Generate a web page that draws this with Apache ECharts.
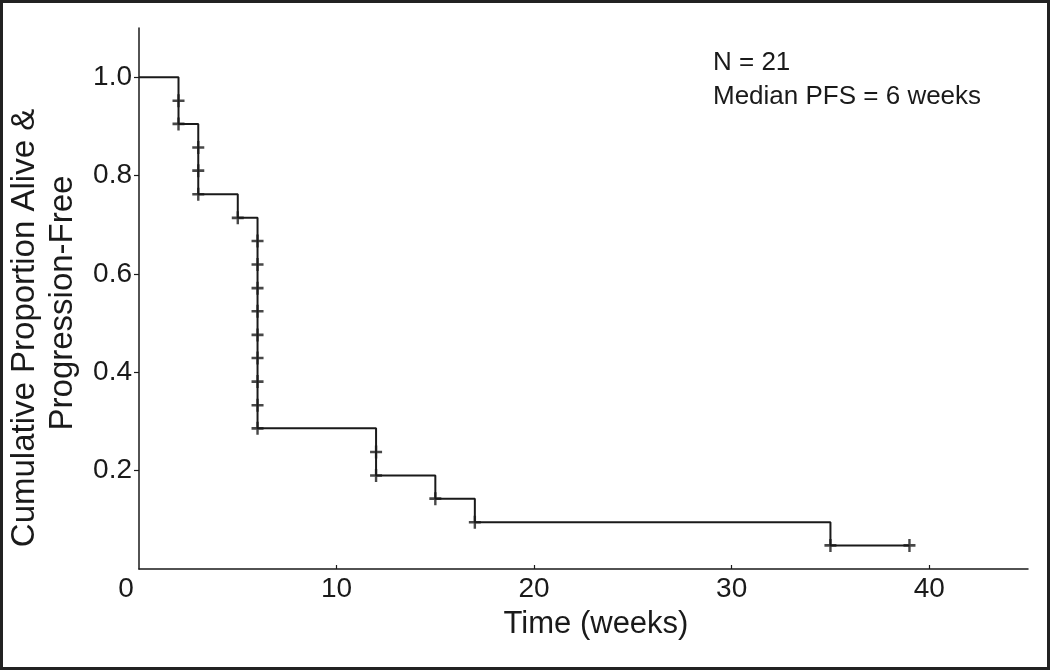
<!DOCTYPE html>
<html>
<head>
<meta charset="utf-8">
<script src="https://cdn.jsdelivr.net/npm/echarts@6/dist/echarts.min.js"></script>
<style>
  html, body { margin: 0; padding: 0; background: #fff; }
  #chart { width: 1050px; height: 670px; }
</style>
</head>
<body>
<div id="chart"></div>
<script>
// Kaplan-Meier step curve (time in weeks, cumulative proportion)
const stepTimes = [0, 2, 3, 5, 6, 12, 15, 17, 35, 39];
const stepSurv  = [1.0, 0.905, 0.762, 0.714, 0.286, 0.190, 0.143, 0.095, 0.048, 0.048];
// Censor / event marks, one per patient (N = 21)
const markTimes = [2, 2, 3, 3, 3, 5, 6, 6, 6, 6, 6, 6, 6, 6, 6, 12, 12, 15, 17, 35, 39];
const markSurv  = [0.952, 0.905, 0.857, 0.810, 0.762, 0.714, 0.667, 0.619, 0.571, 0.524, 0.476,
                   0.429, 0.381, 0.333, 0.286, 0.238, 0.190, 0.143, 0.095, 0.048, 0.048];
// Axis ticks and labels
const xTickValues = [10, 20, 30, 40];
const xLabelValues = [0, 10, 20, 30, 40];
const yTickValues = [0.2, 0.4, 0.6, 0.8, 1.0];
const yLabelValues = [0.2, 0.4, 0.6, 0.8, 1.0];
const xTitle = 'Time (weeks)';
const yTitleLines = ['Cumulative Proportion Alive &', 'Progression-Free'];
const noteLines = ['N = 21', 'Median PFS = 6 weeks'];

const FONT = '"Liberation Sans", Arial, Helvetica, sans-serif';
const INK = '#1a1a1a';

const chart = echarts.init(document.getElementById('chart'), null, { renderer: 'canvas' });

const stepData = stepTimes.map((t, i) => [t, stepSurv[i]]);
const markData = markTimes.map((t, i) => [t, markSurv[i]]);

chart.setOption({
  animation: false,
  backgroundColor: '#fff',
  grid: { left: 139, right: 22, top: 28, bottom: 101, containLabel: false },
  xAxis: {
    type: 'value', min: 0, max: 45, interval: 5,
    axisLine: { show: true, lineStyle: { color: INK, width: 1.5 } },
    axisTick: { show: true, inside: true, length: 4, customValues: xTickValues,
                lineStyle: { color: INK, width: 1.2 } },
    splitLine: { show: false },
    axisLabel: {
      margin: 6, color: INK, fontFamily: FONT, fontSize: 28,
      customValues: xLabelValues,
      formatter: v => v === 0 ? '{z|0}' : String(v),
      rich: { z: { padding: [0, 26, 0, 0], fontSize: 28, fontFamily: FONT, color: INK } }
    }
  },
  yAxis: {
    type: 'value', min: 0, max: 1.1, interval: 0.1,
    axisLine: { show: true, lineStyle: { color: INK, width: 1.5 } },
    axisTick: { show: true, inside: false, length: 5, customValues: yTickValues,
                lineStyle: { color: INK, width: 1.2 } },
    splitLine: { show: false },
    axisLabel: {
      margin: 7, color: INK, fontFamily: FONT, fontSize: 28,
      customValues: yLabelValues,
      formatter: v => v.toFixed(1)
    }
  },
  series: [
    {
      type: 'line', step: 'end', data: stepData,
      symbol: 'none', silent: true,
      lineStyle: { color: INK, width: 2 }
    },
    {
      type: 'scatter', data: markData,
      symbol: 'path://M0,4H10V6H0Z M4,0H6V10H4Z',
      symbolSize: [12, 13], silent: true,
      itemStyle: { color: INK }
    }
  ],
  graphic: [
    {
      type: 'rect', silent: true,
      shape: { x: 1.5, y: 1.5, width: 1047, height: 667 },
      style: { fill: 'none', stroke: '#222', lineWidth: 3 }
    },
    {
      type: 'text', x: 25, y: 328, rotation: Math.PI / 2, silent: true,
      style: { text: yTitleLines[0], font: '33px ' + FONT, fill: INK,
               align: 'center', verticalAlign: 'middle', textAlign: 'center', textVerticalAlign: 'middle' }
    },
    {
      type: 'text', x: 63, y: 303, rotation: Math.PI / 2, silent: true,
      style: { text: yTitleLines[1], font: '33px ' + FONT, fill: INK,
               align: 'center', verticalAlign: 'middle', textAlign: 'center', textVerticalAlign: 'middle' }
    },
    {
      type: 'text', x: 596, y: 624, silent: true,
      style: { text: xTitle, font: '31px ' + FONT, fill: INK,
               align: 'center', verticalAlign: 'middle', textAlign: 'center', textVerticalAlign: 'middle' }
    },
    {
      type: 'text', x: 713, y: 63, silent: true,
      style: { text: noteLines[0], font: '26px ' + FONT, fill: INK,
               align: 'left', verticalAlign: 'middle', textAlign: 'left', textVerticalAlign: 'middle' }
    },
    {
      type: 'text', x: 713, y: 97, silent: true,
      style: { text: noteLines[1], font: '26px ' + FONT, fill: INK,
               align: 'left', verticalAlign: 'middle', textAlign: 'left', textVerticalAlign: 'middle' }
    }
  ]
});
</script>
</body>
</html>
